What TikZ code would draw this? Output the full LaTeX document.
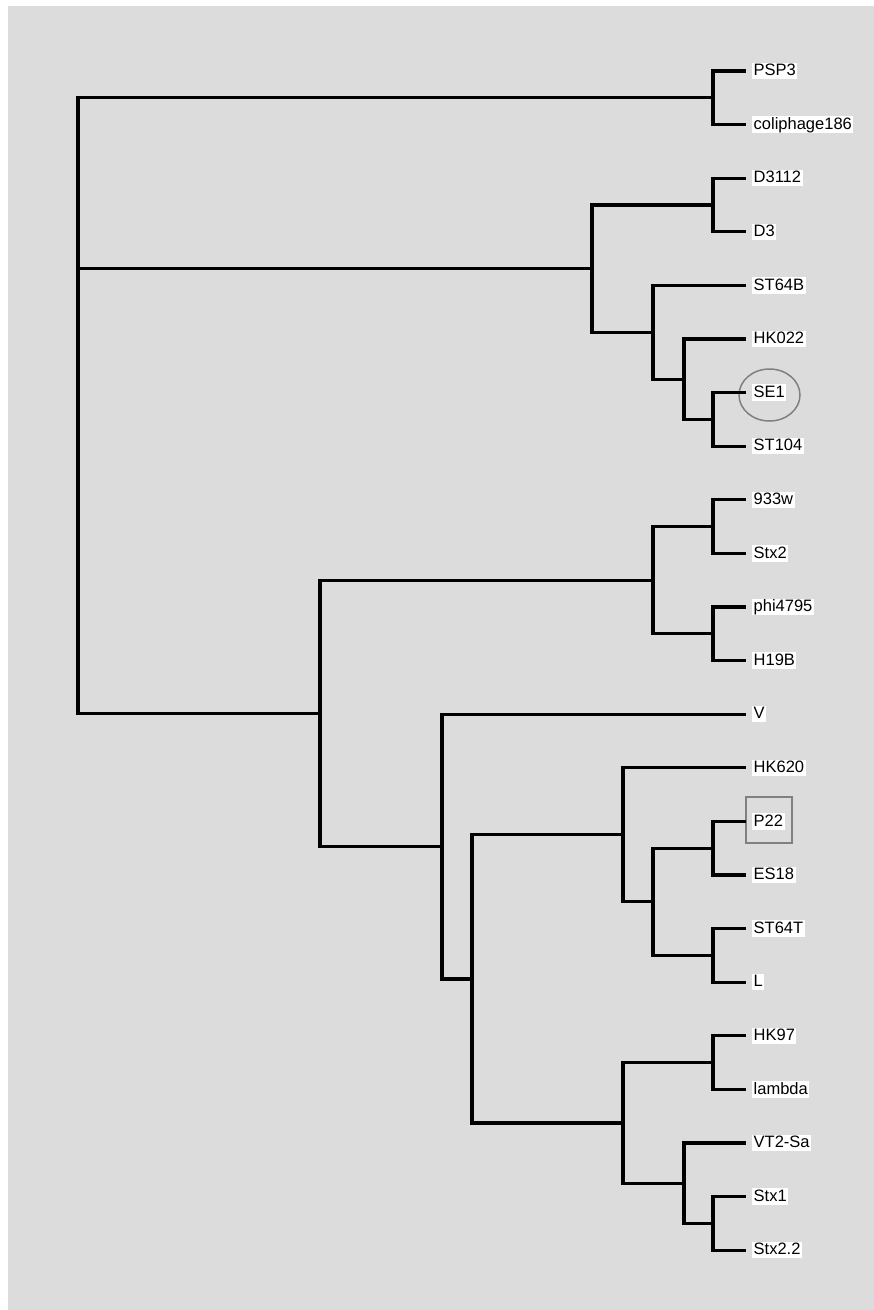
\documentclass[tikz,border=0pt]{standalone}
\usepackage{fontspec}
\setmainfont{Liberation Sans}
\definecolor{bgcol}{RGB}{220,220,220}
\definecolor{hlcol}{RGB}{128,128,128}
\tikzset{
  branch/.style={line width=3.3pt, line join=miter, black},
  tipline/.style={branch, shorten >=6pt},
  leaf/.style={anchor=west, fill=white, inner xsep=1.5pt, inner ysep=0.5pt,
    text height=12.5pt, text depth=3pt, font=\fontsize{16.5}{18}\selectfont},
  hl/.style={draw=hlcol, line width=1.5pt}
}
\begin{document}
\begin{tikzpicture}[x=1pt,y=-1pt]
\useasboundingbox (0,0) rectangle (874,1310);
\fill[bgcol] (8,6) rectangle (874,1310);
% highlights
\draw[hl] (769.5,395) ellipse [x radius=30.5pt, y radius=26pt];
\draw[hl] (746,797) rectangle (792,843);
% leaves
\node[leaf] (PSP3) at (752,71) {PSP3};
\node[leaf] (coli) at (752,124.6) {coliphage186};
\node[leaf] (D3112) at (752,178.2) {D3112};
\node[leaf] (D3) at (752,231.8) {D3};
\node[leaf] (ST64B) at (752,285.4) {ST64B};
\node[leaf] (HK022) at (752,339) {HK022};
\node[leaf] (SE1) at (752,392.6) {SE1};
\node[leaf] (ST104) at (752,446.2) {ST104};
\node[leaf] (w933) at (752,499.8) {933w};
\node[leaf] (Stx2) at (752,553.4) {Stx2};
\node[leaf] (phi) at (752,607) {phi4795};
\node[leaf] (H19B) at (752,660.6) {H19B};
\node[leaf] (V) at (752,714.2) {V};
\node[leaf] (HK620) at (752,767.8) {HK620};
\node[leaf] (P22) at (752,821.4) {P22};
\node[leaf] (ES18) at (752,875) {ES18};
\node[leaf] (ST64T) at (752,928.6) {ST64T};
\node[leaf] (L) at (752,982.2) {L};
\node[leaf] (HK97) at (752,1035.8) {HK97};
\node[leaf] (lambda) at (752,1089.4) {lambda};
\node[leaf] (VT2) at (752,1143) {VT2-Sa};
\node[leaf] (Stx1) at (752,1196.6) {Stx1};
\node[leaf] (Stx22) at (752,1250.2) {Stx2.2};
% internal nodes
\coordinate (n1) at (713,97.8);
\coordinate (n2) at (713,205);
\coordinate (n6) at (713,419.4);
\coordinate (n5) at (684,379.2);
\coordinate (n4) at (653,332.3);
\coordinate (n3) at (592,268.7);
\coordinate (n8) at (713,526.6);
\coordinate (n9) at (713,633.8);
\coordinate (n7) at (653,580.2);
\coordinate (m1) at (713,848.2);
\coordinate (m2) at (713,955.4);
\coordinate (a1) at (653,901.8);
\coordinate (hk) at (623,834.8);
\coordinate (m3) at (713,1062.6);
\coordinate (m4) at (713,1223.4);
\coordinate (vt) at (684,1183.2);
\coordinate (lc) at (623,1122.9);
\coordinate (b) at (472,978.9);
\coordinate (c) at (442,846.5);
\coordinate (d) at (320,713.4);
\coordinate (root) at (78,405.6);
% branches
\draw[tipline] (n1) |- (PSP3.west);
\draw[tipline] (n1) |- (coli.west);
\draw[tipline] (n2) |- (D3112.west);
\draw[tipline] (n2) |- (D3.west);
\draw[tipline] (n6) |- (SE1.west);
\draw[tipline] (n6) |- (ST104.west);
\draw[tipline] (n5) |- (HK022.west);
\draw[branch] (n5) |- (n6);
\draw[tipline] (n4) |- (ST64B.west);
\draw[branch] (n4) |- (n5);
\draw[branch] (n3) |- (n2);
\draw[branch] (n3) |- (n4);
\draw[tipline] (n8) |- (w933.west);
\draw[tipline] (n8) |- (Stx2.west);
\draw[tipline] (n9) |- (phi.west);
\draw[tipline] (n9) |- (H19B.west);
\draw[branch] (n7) |- (n8);
\draw[branch] (n7) |- (n9);
\draw[tipline] (m1) |- (P22.west);
\draw[tipline] (m1) |- (ES18.west);
\draw[tipline] (m2) |- (ST64T.west);
\draw[tipline] (m2) |- (L.west);
\draw[branch] (a1) |- (m1);
\draw[branch] (a1) |- (m2);
\draw[tipline] (hk) |- (HK620.west);
\draw[branch] (hk) |- (a1);
\draw[tipline] (m3) |- (HK97.west);
\draw[tipline] (m3) |- (lambda.west);
\draw[tipline] (m4) |- (Stx1.west);
\draw[tipline] (m4) |- (Stx22.west);
\draw[tipline] (vt) |- (VT2.west);
\draw[branch] (vt) |- (m4);
\draw[branch] (lc) |- (m3);
\draw[branch] (lc) |- (vt);
\draw[branch] (b) |- (hk);
\draw[branch] (b) |- (lc);
\draw[tipline] (c) |- (V.west);
\draw[branch] (c) |- (b);
\draw[branch] (d) |- (n7);
\draw[branch] (d) |- (c);
\draw[branch] (root) |- (n1);
\draw[branch] (root) |- (n3);
\draw[branch] (root) |- (d);
\end{tikzpicture}
\end{document}
